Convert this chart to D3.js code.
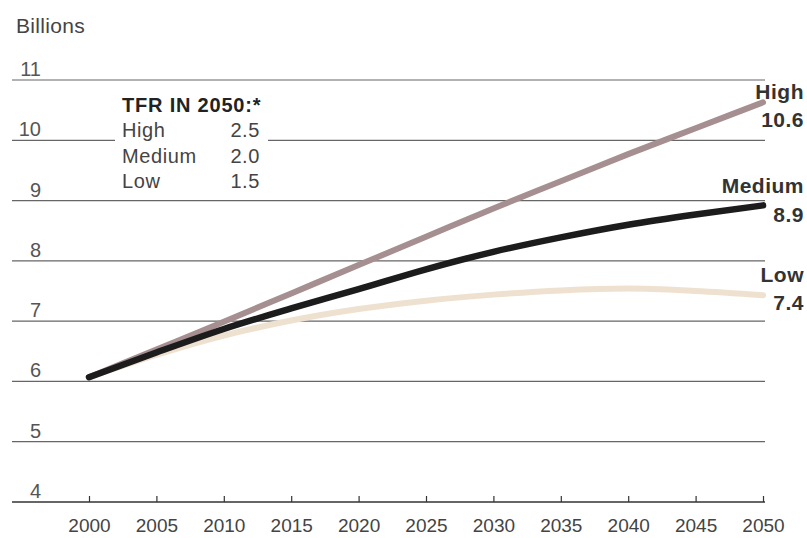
<!DOCTYPE html>
<html>
<head>
<meta charset="utf-8">
<script src="https://cdn.jsdelivr.net/npm/d3@7"></script>
<style>
  body { margin: 0; background: #fff; }
  text { font-family: "Liberation Sans", Arial, sans-serif; }
</style>
</head>
<body>
<div class="container"></div>
<script>
const years = [2000, 2005, 2010, 2015, 2020, 2025, 2030, 2035, 2040, 2045, 2050];
const high = [6.07, 6.53, 6.99, 7.46, 7.93, 8.4, 8.87, 9.32, 9.77, 10.2, 10.63];
const medium = [6.07, 6.48, 6.87, 7.21, 7.53, 7.86, 8.15, 8.39, 8.6, 8.77, 8.92];
const low = [6.07, 6.44, 6.76, 7.01, 7.2, 7.34, 7.44, 7.51, 7.54, 7.5, 7.43];
const yTicks = [4, 5, 6, 7, 8, 9, 10, 11];
const legendRows = [["High", "2.5"], ["Medium", "2.0"], ["Low", "1.5"]];

const width = 807, height = 538;

const svg = d3.select('.container')
    .append('svg')
    .attr('width', width)
    .attr('height', height);

const x = d3.scaleLinear().domain([2000, 2050]).range([89, 763]);
const y = d3.scaleLinear().domain([4, 11]).range([502, 80]);

// unit label
svg.append('text')
    .attr('x', 16).attr('y', 33)
    .attr('font-size', 21).attr('fill', '#444')
    .attr('letter-spacing', 0.3)
    .text('Billions');

// gridlines, labels sit just above each line
svg.selectAll('.grid')
    .data(yTicks)
    .enter()
    .append('line')
    .attr('x1', 12).attr('x2', 765)
    .attr('y1', d => y(d)).attr('y2', d => y(d))
    .attr('stroke', d => d === 4 ? '#333' : '#666')
    .attr('stroke-width', d => d === 4 ? 1.6 : 1.2);

svg.selectAll('.ylab')
    .data(yTicks)
    .enter()
    .append('text')
    .attr('x', 41)
    .attr('y', d => y(d) - 4)
    .attr('text-anchor', 'end')
    .attr('font-size', 20)
    .attr('fill', '#555')
    .text(d => d);

// x axis: ticks point up from the 4 line, labels below
const xAxis = d3.axisBottom(x)
    .tickValues(years)
    .tickFormat(d3.format('d'))
    .tickSizeInner(-6)
    .tickSizeOuter(0)
    .tickPadding(17);

const gx = svg.append('g')
    .attr('transform', `translate(0,${y(4)})`)
    .call(xAxis);
gx.select('.domain').remove();
gx.selectAll('.tick line').attr('stroke', '#333').attr('stroke-width', 1.2);
gx.selectAll('.tick text')
    .attr('font-size', 19)
    .attr('fill', '#444')
    .attr('font-family', '"Liberation Sans", Arial, sans-serif');

// legend box, knocks out the 10 gridline
svg.append('rect')
    .attr('x', 115).attr('y', 88)
    .attr('width', 153).attr('height', 106)
    .attr('fill', '#fff');

svg.append('text')
    .attr('x', 122).attr('y', 112)
    .attr('font-size', 20).attr('font-weight', 'bold').attr('fill', '#222')
    .attr('letter-spacing', 0.8)
    .text('TFR IN 2050:*');

legendRows.forEach((r, i) => {
    svg.append('text')
        .attr('x', 122).attr('y', 137 + i * 25.5)
        .attr('font-size', 20).attr('fill', '#444')
        .attr('letter-spacing', 0.6)
        .text(r[0]);
    svg.append('text')
        .attr('x', 260).attr('y', 137 + i * 25.5)
        .attr('font-size', 20).attr('fill', '#444')
        .attr('text-anchor', 'end')
        .attr('letter-spacing', 0.6)
        .text(r[1]);
});

// series
const line = d3.line()
    .x((d, i) => x(years[i]))
    .y(d => y(d))
    .curve(d3.curveMonotoneX);

const series = [
    {name: 'Low', values: low, color: '#efe1cf', width: 6},
    {name: 'High', values: high, color: '#a58f91', width: 6},
    {name: 'Medium', values: medium, color: '#1c1c1c', width: 6.5}
];

svg.selectAll('.series')
    .data(series)
    .enter()
    .append('path')
    .attr('d', d => line(d.values))
    .attr('fill', 'none')
    .attr('stroke', d => d.color)
    .attr('stroke-width', d => d.width)
    .attr('stroke-linecap', 'round')
    .attr('stroke-linejoin', 'round');

// end labels
const endLabels = [
    {name: 'High', value: '10.6', y1: 99, y2: 127},
    {name: 'Medium', value: '8.9', y1: 193, y2: 222},
    {name: 'Low', value: '7.4', y1: 282, y2: 310}
];
endLabels.forEach(d => {
    svg.append('text')
        .attr('x', 804).attr('y', d.y1)
        .attr('text-anchor', 'end')
        .attr('font-size', 21).attr('font-weight', 'bold').attr('fill', '#333')
        .attr('letter-spacing', 0.5)
        .text(d.name);
    svg.append('text')
        .attr('x', 804).attr('y', d.y2)
        .attr('text-anchor', 'end')
        .attr('font-size', 21).attr('font-weight', 'bold').attr('fill', '#333')
        .attr('letter-spacing', 0.5)
        .text(d.value);
});
</script>
</body>
</html>
